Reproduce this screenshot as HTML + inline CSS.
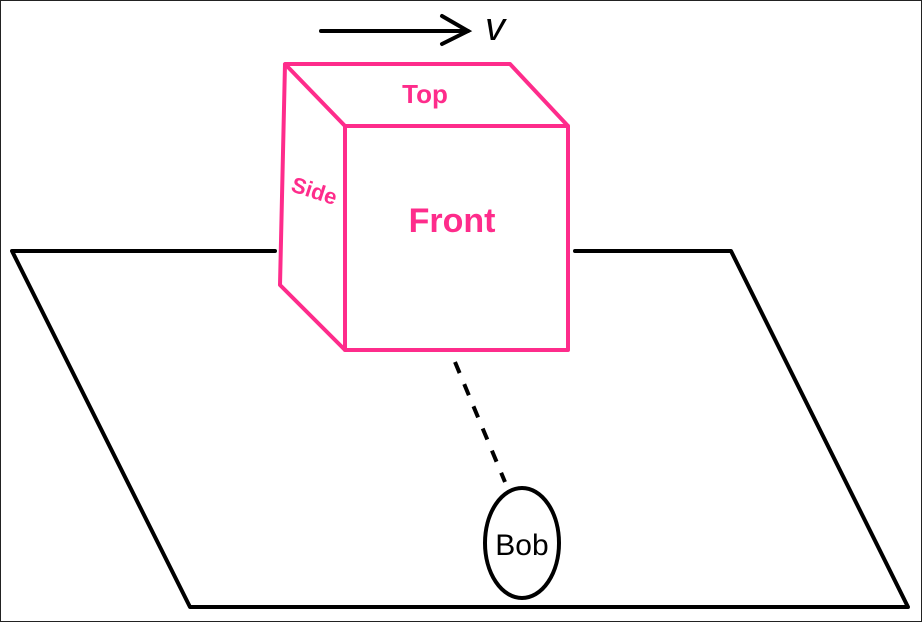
<!DOCTYPE html>
<html><head><meta charset="utf-8"><style>
html,body{margin:0;padding:0;background:#fff;}
svg{display:block;}
text{font-family:"Liberation Sans","DejaVu Sans",sans-serif;}
</style></head><body>
<svg width="922" height="622" viewBox="0 0 922 622">
<rect x="0.5" y="0.5" width="921" height="621" fill="#fff" stroke="#222" stroke-width="1"/>
<g fill="none" stroke="#000" stroke-width="4" stroke-linecap="round" stroke-linejoin="round">
<polyline points="275,251 12,251 190,607 908,607 731,251 575,251"/>
</g>
<g stroke="#000" stroke-width="4" stroke-linecap="round" fill="none">
<line x1="321" y1="31" x2="468" y2="31"/>
<polyline points="442,16 468,31 442,44"/>
</g>
<text x="485" y="40" font-size="40" font-style="italic" fill="#000">v</text>
<g fill="none" stroke="#fe2c8b" stroke-width="4" stroke-linejoin="round">
<polygon points="345,126 568,126 568,350 345,350"/>
<polyline points="345,126 285,64 510,64 568,126"/>
<polyline points="285,64 280,285 345,350"/>
</g>
<text x="425" y="103" font-size="26" font-weight="bold" fill="#fe2c8b" text-anchor="middle">Top</text>
<text x="0" y="0" font-size="22" font-weight="bold" fill="#fe2c8b" text-anchor="middle" transform="translate(312,198) rotate(18)">Side</text>
<text x="452" y="232" font-size="34" font-weight="bold" fill="#fe2c8b" text-anchor="middle">Front</text>
<line x1="455" y1="362" x2="505" y2="482" stroke="#000" stroke-width="4" stroke-dasharray="12,12"/>
<ellipse cx="522" cy="543" rx="37" ry="55" fill="none" stroke="#000" stroke-width="4"/>
<text x="522" y="555" font-size="30" fill="#000" text-anchor="middle">Bob</text>
</svg>
</body></html>
